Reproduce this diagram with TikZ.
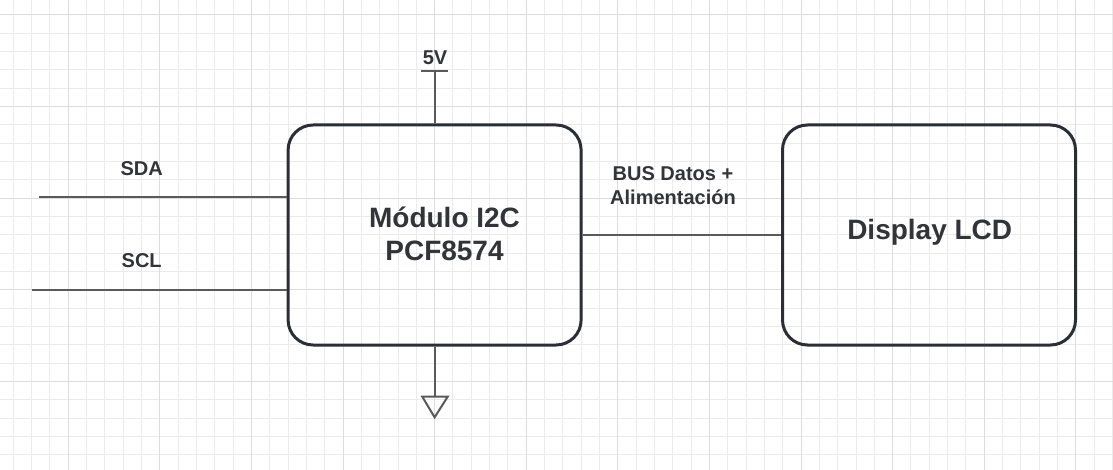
\documentclass[tikz,border=0pt]{standalone}
\usepackage{fontspec}
\setmainfont{Liberation Sans}
\definecolor{gridminor}{HTML}{EBEBEB}
\definecolor{gridmajor}{HTML}{DCDCDC}
\definecolor{boxline}{HTML}{2B2E34}
\definecolor{wire}{HTML}{5A5A5A}
\definecolor{txt}{HTML}{333438}
\tikzset{
  minorgrid/.style={draw=gridminor, line width=1pt},
  majorgrid/.style={draw=gridmajor, line width=1pt},
  blockbox/.style={draw=boxline, line width=3pt, rounded corners=25pt, minimum width=293pt, minimum height=220pt, inner sep=0pt, fill=none},
  wireline/.style={draw=wire, line width=2pt},
  bigtext/.style={text=txt, font=\bfseries\fontsize{28}{33.6}\selectfont, align=center, inner sep=0pt},
  smalltext/.style={text=txt, font=\bfseries\fontsize{20}{24.3}\selectfont, align=center, inner sep=0pt},
}
\begin{document}
\begin{tikzpicture}[x=1pt,y=-1pt]
\fill[white] (0,0) rectangle (1113,470);
\useasboundingbox (0,0) rectangle (1113,470);
% grid
\foreach \i in {0,...,60} {
  \draw[minorgrid] ({13.3+\i*18.32},0) -- ({13.3+\i*18.32},470);
}
\foreach \i in {0,...,25} {
  \draw[minorgrid] (0,{15+\i*18.32}) -- (1113,{15+\i*18.32});
}
\foreach \i in {0,...,11} {
  \draw[majorgrid] ({68.3+\i*91.6},0) -- ({68.3+\i*91.6},470);
}
\foreach \i in {0,...,5} {
  \draw[majorgrid] (0,{15+\i*91.6}) -- (1113,{15+\i*91.6});
}
% blocks
\node[blockbox] (mod) at (434.6,235) {};
\node[blockbox] (lcd) at (929,235) {};
\node[bigtext, anchor=base] (modtxt) at (444.5,260.7) {Módulo I2C\\PCF8574};
\node[bigtext, anchor=base] (lcdtxt) at (929.7,240) {Display LCD};
% SDA / SCL
\coordinate (sdaL) at (39,196.7);
\coordinate (sclL) at (32,290);
\draw[wireline] (sdaL) -- (sdaL -| mod.west);
\draw[wireline] (sclL) -- (sclL -| mod.west);
\node[smalltext, anchor=base] (sda) at (141.7,176) {SDA};
\node[smalltext, anchor=base] (scl) at (141.7,267.3) {SCL};
% bus
\draw[wireline] (mod.east) -- (lcd.west);
\node[smalltext, anchor=base] (bus) at (673,205) {BUS Datos +\\Alimentación};
% 5V
\coordinate (vtop) at (434.6,71.3);
\coordinate (vbarL) at (421,71.3);
\coordinate (vbarR) at (448,71.3);
\draw[wireline] (mod.north) -- (vtop);
\draw[wireline] (vbarL) -- (vbarR);
\node[smalltext, anchor=base] (v5) at (435,65) {5V};
% ground
\coordinate (gnd) at (434.6,396.7);
\coordinate (gndL) at (422.3,396.7);
\coordinate (gndR) at (447.7,396.7);
\coordinate (gndT) at (434.6,417.3);
\draw[wireline] (mod.south) -- (gnd);
\draw[wireline, line join=miter] (gndL) -- (gndR) -- (gndT) -- cycle;
\end{tikzpicture}
\end{document}
